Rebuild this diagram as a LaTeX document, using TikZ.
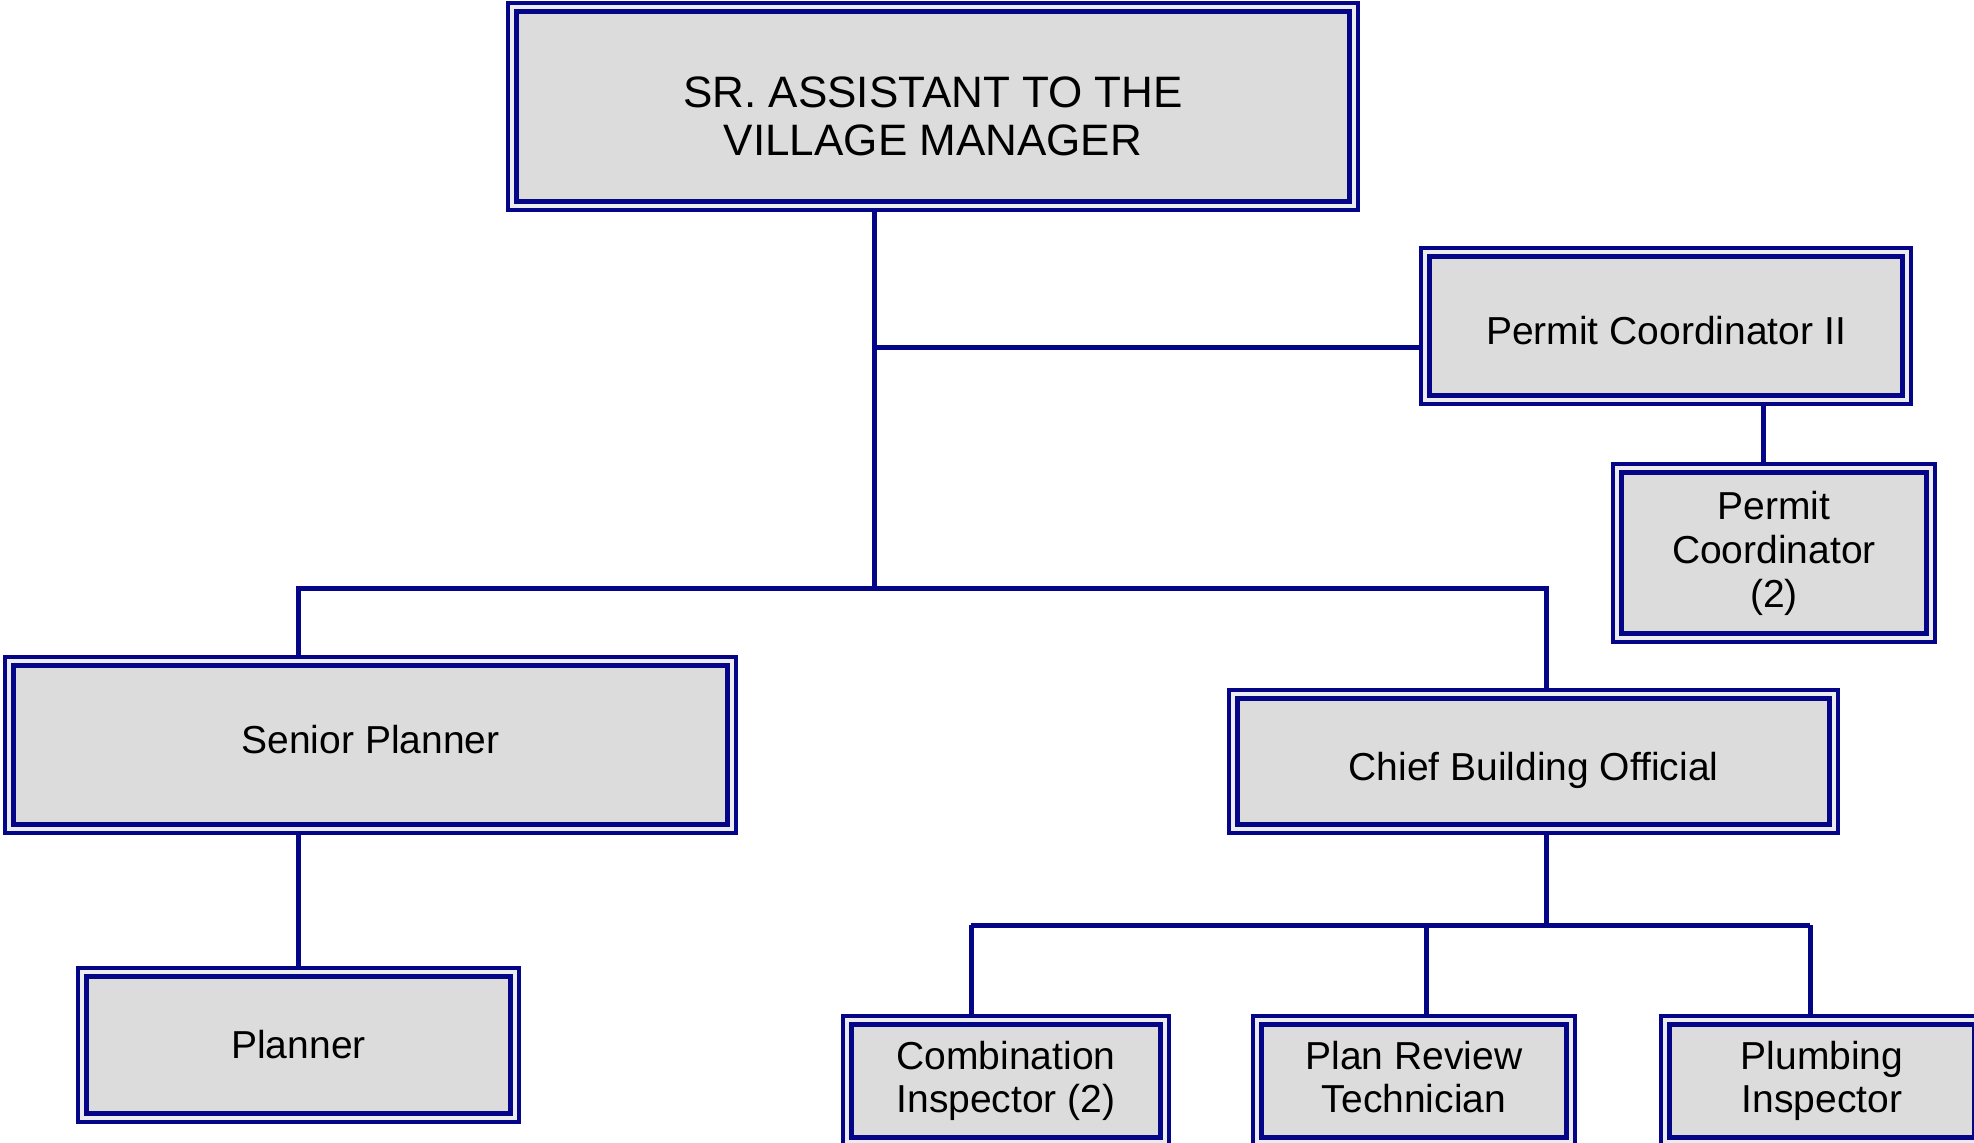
\documentclass[tikz,border=0pt]{standalone}
\usepackage{fontspec}
\setmainfont{Liberation Sans}
\definecolor{navy}{RGB}{5,5,135}
\definecolor{boxgray}{RGB}{220,220,220}
\definecolor{gapgray}{RGB}{236,236,240}

\tikzset{
	postframe/.style={draw=navy, line width=2pt, fill=gapgray, inner sep=0pt, outer sep=0pt},
	postinner/.style={draw=navy, line width=2.5pt, fill=boxgray},
	posttext/.style={align=center, inner sep=0pt, font=\fontsize{19.5}{21.5}\selectfont},
	wire/.style={draw=navy, line width=2.5pt},
}

% name, left, top, right, bottom (pixels), text
\newcommand{\post}[7][]{
	\node[postframe, minimum width={(#5-#3)*0.5pt}, minimum height={(#6-#4)*0.5pt}] (#2) at ({(#3+#5)/2},{(#4+#6)/2}) {};
	\filldraw[postinner] ([shift={(8.5,8.5)}]#2.north west) rectangle ([shift={(-8.5,-8.5)}]#2.south east);
	\node[posttext,#1] (#2-txt) at (#2) {#7};
}

\begin{document}
\begin{tikzpicture}[x=0.5pt, y=-0.5pt]

	\useasboundingbox (0,0) rectangle (1974,1143);

	\post[yshift=-5pt, font=\fontsize{22}{24}\selectfont]{mgr}{508}{3}{1358}{210}{SR. ASSISTANT TO THE\\VILLAGE MANAGER}
	\post[yshift=-2.5pt]{pc2}{1421}{248}{1911}{404}{Permit Coordinator II}
	\post[font=\fontsize{19.5}{22}\selectfont]{pc}{1613}{464}{1935}{642}{Permit\\Coordinator\\(2)}
	\post[yshift=2.5pt]{sp}{5}{657}{736}{833}{Senior Planner}
	\post[yshift=-4.5pt]{cbo}{1229}{690}{1838}{833}{Chief Building Official}
	\post{pl}{78}{968}{519}{1122}{Planner}
	\post{ci}{843}{1016}{1169}{1146}{Combination\\Inspector (2)}
	\post[yshift=2pt]{prt}{1253}{1016}{1575}{1146}{Plan Review\\Technician}
	\post{pi}{1661}{1016}{1983}{1146}{Plumbing\\Inspector}

	\coordinate (split) at (874,589);
	\coordinate (tap) at (874,348);
	\coordinate (spdrop) at (298,589);
	\coordinate (cbdrop) at (1546,589);
	\coordinate (pcdrop) at (1763,0);
	\coordinate (cbus) at (1546,925);

	\draw[wire] (mgr.south -| split) -- (split);
	\draw[wire] (tap) -- (pc2.west |- tap);
	\draw[wire] (pc2.south -| pcdrop) -- (pc.north -| pcdrop);
	\draw[wire] (sp.north -| spdrop) -- (spdrop) -- (cbdrop) -- (cbo.north -| cbdrop);
	\draw[wire] (sp.south -| spdrop) -- (pl.north -| spdrop);
	\draw[wire] (cbo.south -| cbus) -- (cbus);

	\foreach \n/\x in {ci/971, prt/1426, pi/1810}
		{
		\coordinate (\n-top) at (\x,925);
		\draw[wire] (\n-top) -- (\n.north -| \n-top);
		} %end for \n
	\draw[wire] (ci-top) -- (pi-top);

\end{tikzpicture}
\end{document}
